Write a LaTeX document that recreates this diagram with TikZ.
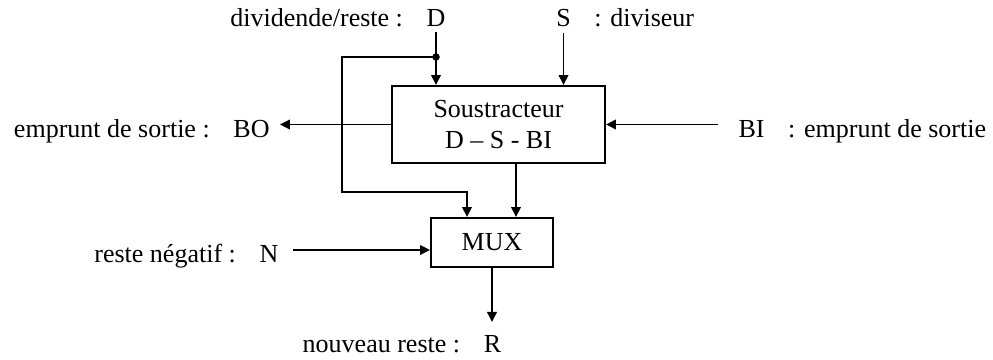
\documentclass[tikz,border=0pt]{standalone}
\usepackage{fontspec}
\setmainfont{Liberation Serif}
\usetikzlibrary{arrows.meta,positioning}
\tikzset{blk/.style={draw=black,line width=1.1pt,align=center,inner sep=0pt,font=\fontsize{14.8}{17.8}\selectfont},port/.style={inner sep=0.1cm,anchor=base,font=\fontsize{14.8}{17.8}\selectfont},lab/.style={inner sep=0pt,font=\fontsize{14.8}{17.8}\selectfont},sig/.style={-{Triangle[length=2mm,width=1.9mm]},line width=1.1pt}}

\begin{document}
\begin{tikzpicture}[x=1cm,y=1cm]
\path[use as bounding box] (0,0) rectangle (19.86,7.2);
\node[blk,minimum width=4.26cm,minimum height=1.54cm] (sub) at (9.97,4.71) {Soustracteur\\D – S - BI};
\node[blk,minimum width=2.44cm,minimum height=0.98cm] (mux) at (9.84,2.35) {MUX};
\node[port] (D) at (8.72,6.66) {D};
\node[port] (S) at (11.27,6.66) {S};
\node[port] (BO) at (5.03,4.44) {BO};
\node[port] (BI) at (15.03,4.44) {BI};
\node[port] (N) at (5.38,1.94) {N};
\node[port] (R) at (9.85,0.14) {R};
\node[lab,left=0.36cm of D.base west,anchor=base east] (Dlab) {dividende/reste :};
\node[lab,right=0.36cm of S.base east,anchor=base west] (Slab) {: diviseur};
\node[lab,left=0.36cm of BO.base west,anchor=base east] (BOlab) {emprunt de sortie :};
\node[lab,right=0.36cm of BI.base east,anchor=base west] (BIlab) {: emprunt de sortie};
\node[lab,left=0.36cm of N.base west,anchor=base east] (Nlab) {reste négatif :};
\node[lab,left=0.36cm of R.base west,anchor=base east] (Rlab) {nouveau reste :};
\coordinate (tap) at (8.72,6.06);
\coordinate (nin) at (5.86,2.2);
\coordinate (rout) at (9.84,0.76);
\draw[sig] (D.south) -- (D.south |- sub.north);
\fill (tap) circle (0.075);
\draw[sig] (tap) -| (6.84,3.36) -| ([xshift=-0.5cm]mux.north);
\draw[sig] (S.south) -- (S.south |- sub.north);
\draw[sig] (sub.west) -- ([xshift=0.1cm]sub.west -| BO.east);
\draw[sig] ([xshift=-0.3cm]sub.east -| BI.west) -- (sub.east);
\draw[sig] ([xshift=0.35cm]sub.south) -- ([xshift=0.35cm]sub.south |- mux.north);
\draw[sig] (nin) -- (nin -| mux.west);
\draw[sig] (mux.south) -- (mux.south |- rout);
\end{tikzpicture}
\end{document}
